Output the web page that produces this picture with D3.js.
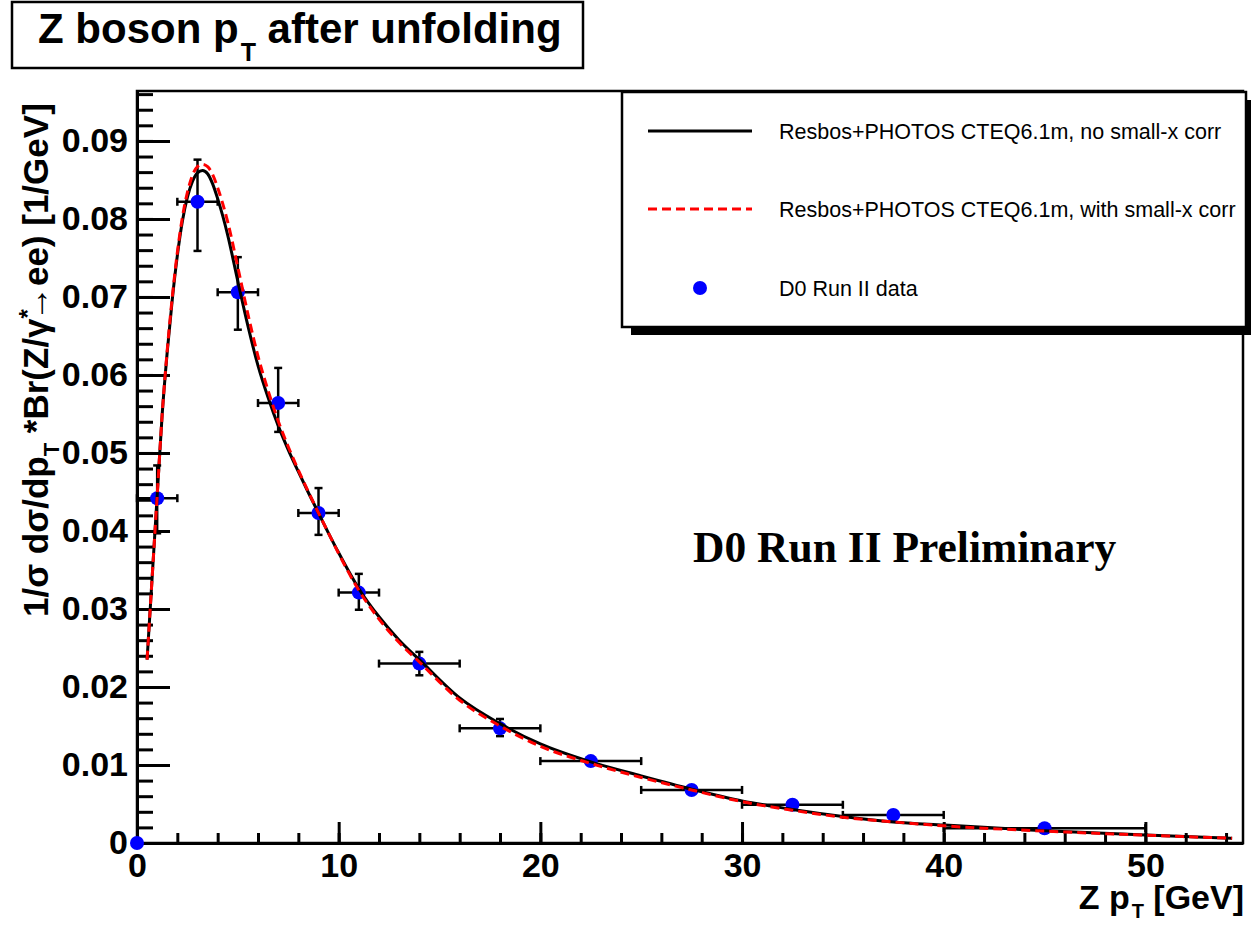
<!DOCTYPE html>
<html>
<head>
<meta charset="utf-8">
<script src="https://cdn.jsdelivr.net/npm/d3@7"></script>
<style>
  body { margin: 0; background: #fff; }
</style>
</head>
<body>
<svg id="chart" width="1251" height="925" font-family='"Liberation Sans", Arial, Helvetica, sans-serif'></svg>
<script>
// D0 data points (unfolded Z pT)
const dataX = [0, 1, 3, 5, 7, 9, 11, 14, 18, 22.5, 27.5, 32.5, 37.5, 45];
const dataY = [0, 0.0442, 0.0822, 0.0706, 0.0564, 0.0423, 0.0321, 0.0230, 0.0147, 0.0105, 0.0068, 0.0049, 0.0036, 0.0019];
const dataXLow = [0, 0, 2, 4, 6, 8, 10, 12, 16, 20, 25, 30, 35, 40];
const dataXHigh = [0, 2, 4, 6, 8, 10, 12, 16, 20, 25, 30, 35, 40, 50];
const dataErrUp = [0, 0.0042, 0.0054, 0.0045, 0.0045, 0.0032, 0.0024, 0.0015, 0.0012, 0.0005, 0.0003, 0.0002, 0.0002, 0.0002];
const dataErrDown = [0, 0.0045, 0.0063, 0.0048, 0.0037, 0.0028, 0.0022, 0.0015, 0.0010, 0.0005, 0.0003, 0.0002, 0.0002, 0.0002];

// Resbos curves
const curveX = [0.5, 0.75, 1, 1.25, 1.5, 1.75, 2, 2.25, 2.5, 2.75, 3, 3.25, 3.5, 3.75, 4, 4.5, 5, 5.5, 6, 6.5, 7, 7.5, 8, 8.5, 9, 9.5, 10, 11, 12, 13, 14, 16, 18, 20, 22.5, 25, 27.5, 30, 32.5, 35, 37.5, 40, 45, 50, 54.3];
const noCorrY = [0.0235, 0.0340, 0.0445, 0.0550, 0.0630, 0.0697, 0.0753, 0.0797, 0.0828, 0.0848, 0.0859, 0.0862, 0.0858, 0.0845, 0.0826, 0.0779, 0.0720, 0.0663, 0.0612, 0.0571, 0.0535, 0.0504, 0.0476, 0.0449, 0.0423, 0.0397, 0.0372, 0.0326, 0.0290, 0.0260, 0.0235, 0.0186, 0.0153, 0.0127, 0.0104, 0.0086, 0.0069, 0.0054, 0.0043, 0.0034, 0.0027, 0.0023, 0.00157, 0.00103, 0.0006];
const withCorrY = [0.0235, 0.0340, 0.0445, 0.0550, 0.0632, 0.0700, 0.0757, 0.0802, 0.0834, 0.0856, 0.0867, 0.0870, 0.0867, 0.0857, 0.0840, 0.0796, 0.0738, 0.0678, 0.0624, 0.0580, 0.0541, 0.0508, 0.0478, 0.0450, 0.0423, 0.0397, 0.0371, 0.0324, 0.0287, 0.0257, 0.0232, 0.0183, 0.0150, 0.0124, 0.0102, 0.0084, 0.0068, 0.0053, 0.0042, 0.0033, 0.0027, 0.0022, 0.00153, 0.00100, 0.0006];

const yTickValues = [0, 0.01, 0.02, 0.03, 0.04, 0.05, 0.06, 0.07, 0.08, 0.09];
const yTickLabels = ['0', '0.01', '0.02', '0.03', '0.04', '0.05', '0.06', '0.07', '0.08', '0.09'];
const xTickValues = [0, 10, 20, 30, 40, 50];
const xTickLabels = ['0', '10', '20', '30', '40', '50'];

const legendLabels = [
  'Resbos+PHOTOS CTEQ6.1m, no small-x corr',
  'Resbos+PHOTOS CTEQ6.1m, with small-x corr',
  'D0 Run II data'
];

const width = 1251;
const height = 925;
const frameLeft = 137, frameRight = 1243, frameTop = 91, frameBottom = 843;

const svg = d3.select('#chart');
svg.append('rect').attr('width', width).attr('height', height).attr('fill', 'white');

const xscale = d3.scaleLinear().domain([0, 54.84]).range([frameLeft, frameRight]);
const yscale = d3.scaleLinear().domain([0, 0.0964]).range([frameBottom, frameTop]);

// frame
svg.append('rect')
  .attr('x', frameLeft).attr('y', frameTop)
  .attr('width', frameRight - frameLeft).attr('height', frameBottom - frameTop)
  .attr('fill', 'none').attr('stroke', 'black').attr('stroke-width', 2.5);

// axes
const fontAttrs = (g) => g
  .attr('font-family', '"Liberation Sans", Arial, sans-serif')
  .attr('font-size', 34)
  .attr('font-weight', 'bold');

const yMinor = svg.append('g')
  .attr('transform', `translate(${frameLeft}, 0)`)
  .call(d3.axisLeft(yscale).tickValues(d3.range(0, 0.0961, 0.002)).tickSize(-16).tickFormat(''));
yMinor.select('.domain').remove();
yMinor.selectAll('line').attr('stroke-width', 3);

const xMinor = svg.append('g')
  .attr('transform', `translate(0, ${frameBottom})`)
  .call(d3.axisBottom(xscale).tickValues(d3.range(0, 54.5, 2)).tickSize(-10).tickFormat(''));
xMinor.select('.domain').remove();
xMinor.selectAll('line').attr('stroke-width', 3);

const leftAxis = d3.axisLeft(yscale)
  .tickValues(yTickValues)
  .tickFormat((d, i) => yTickLabels[i])
  .tickSize(-33)
  .tickSizeOuter(0)
  .tickPadding(9);
const yAxisG = svg.append('g')
  .attr('transform', `translate(${frameLeft}, 0)`)
  .call(leftAxis)
  .call(fontAttrs);
yAxisG.selectAll('line').attr('stroke-width', 3);
yAxisG.select('.domain').attr('stroke-width', 3);

const bottomAxis = d3.axisBottom(xscale)
  .tickValues(xTickValues)
  .tickFormat((d, i) => xTickLabels[i])
  .tickSize(-21)
  .tickSizeOuter(0)
  .tickPadding(10);
const xAxisG = svg.append('g')
  .attr('transform', `translate(0, ${frameBottom})`)
  .call(bottomAxis)
  .call(fontAttrs);
xAxisG.selectAll('line').attr('stroke-width', 3);
xAxisG.select('.domain').attr('stroke-width', 3);

// data with error bars
const points = dataX.map((x, i) => ({
  x, y: dataY[i], xl: dataXLow[i], xh: dataXHigh[i], eu: dataErrUp[i], ed: dataErrDown[i]
}));
const bars = svg.append('g').attr('stroke', 'black').attr('stroke-width', 2.5);
const cap = 4;
points.filter((d) => d.xh > d.xl).forEach((d) => {
  const px = xscale(d.x), py = yscale(d.y);
  bars.append('line').attr('x1', xscale(d.xl)).attr('x2', xscale(d.xh)).attr('y1', py).attr('y2', py);
  bars.append('line').attr('x1', xscale(d.xl)).attr('x2', xscale(d.xl)).attr('y1', py - cap).attr('y2', py + cap);
  bars.append('line').attr('x1', xscale(d.xh)).attr('x2', xscale(d.xh)).attr('y1', py - cap).attr('y2', py + cap);
  const yt = yscale(d.y + d.eu), yb = yscale(d.y - d.ed);
  bars.append('line').attr('x1', px).attr('x2', px).attr('y1', yt).attr('y2', yb);
  bars.append('line').attr('x1', px - cap).attr('x2', px + cap).attr('y1', yt).attr('y2', yt);
  bars.append('line').attr('x1', px - cap).attr('x2', px + cap).attr('y1', yb).attr('y2', yb);
});

svg.append('g')
  .selectAll('circle')
  .data(points)
  .enter()
  .append('circle')
  .attr('cx', (d) => xscale(d.x))
  .attr('cy', (d) => yscale(d.y))
  .attr('r', 7)
  .attr('fill', 'blue');

// curves
const line = d3.line()
  .x((d) => xscale(d.x))
  .y((d) => yscale(d.y))
  .curve(d3.curveMonotoneX);

svg.append('path')
  .datum(curveX.map((x, i) => ({ x, y: noCorrY[i] })))
  .attr('d', line)
  .attr('fill', 'none')
  .attr('stroke', 'black')
  .attr('stroke-width', 3);

svg.append('path')
  .datum(curveX.map((x, i) => ({ x, y: withCorrY[i] })))
  .attr('d', line)
  .attr('fill', 'none')
  .attr('stroke', 'red')
  .attr('stroke-width', 3)
  .attr('stroke-dasharray', '9,5');

// title box
svg.append('rect')
  .attr('x', 12).attr('y', 2).attr('width', 571).attr('height', 66)
  .attr('fill', 'white').attr('stroke', 'black').attr('stroke-width', 2.5);
const title = svg.append('text')
  .attr('x', 38).attr('y', 43)
  .attr('font-size', 42).attr('font-weight', 'bold');
title.append('tspan').text('Z boson p');
title.append('tspan').attr('font-size', 25).attr('dy', 18).attr('dx', 2).text('T');
title.append('tspan').attr('dy', -18).text(' after unfolding');

// y axis title
const ylab = svg.append('text')
  .attr('transform', 'translate(48, 617) rotate(-90)')
  .attr('font-size', 35).attr('font-weight', 'bold');
ylab.append('tspan').text('1/\u03c3 d\u03c3/dp');
ylab.append('tspan').attr('font-size', 22).attr('dy', 11).text('T');
ylab.append('tspan').attr('dy', -11).text(' *Br(Z/\u03b3');
ylab.append('tspan').attr('font-size', 24).attr('dy', -12).text('*');
ylab.append('tspan').attr('dy', 12).attr('dx', -12).text('\u2192ee) [1/GeV]');

// x axis title
const xlab = svg.append('text')
  .attr('x', 1244).attr('y', 909)
  .attr('text-anchor', 'end')
  .attr('font-size', 34).attr('font-weight', 'bold');
xlab.append('tspan').text('Z p');
xlab.append('tspan').attr('font-size', 20).attr('dy', 9).attr('dx', 2).text('T');
xlab.append('tspan').attr('dy', -9).text(' [GeV]');

// legend
svg.append('rect')
  .attr('x', 631).attr('y', 100).attr('width', 624).attr('height', 235)
  .attr('fill', 'black');
svg.append('rect')
  .attr('x', 622).attr('y', 92).attr('width', 624).attr('height', 235)
  .attr('fill', 'white').attr('stroke', 'black').attr('stroke-width', 2.5);

const legendY = [131, 209, 288];
svg.append('line')
  .attr('x1', 648).attr('x2', 752).attr('y1', legendY[0]).attr('y2', legendY[0])
  .attr('stroke', 'black').attr('stroke-width', 3);
svg.append('line')
  .attr('x1', 648).attr('x2', 752).attr('y1', legendY[1]).attr('y2', legendY[1])
  .attr('stroke', 'red').attr('stroke-width', 3).attr('stroke-dasharray', '9,5');
svg.append('circle')
  .attr('cx', 700).attr('cy', legendY[2]).attr('r', 7).attr('fill', 'blue');

svg.append('g')
  .selectAll('text')
  .data(legendLabels)
  .enter()
  .append('text')
  .attr('x', 779)
  .attr('y', (d, i) => legendY[i] + 7.5)
  .attr('font-size', 21.5)
  .text((d) => d);

// preliminary label
svg.append('text')
  .attr('x', 693).attr('y', 562)
  .attr('font-family', '"Liberation Serif", "Times New Roman", serif')
  .attr('font-size', 43.5).attr('font-weight', 'bold')
  .text('D0 Run II Preliminary');
</script>
</body>
</html>
